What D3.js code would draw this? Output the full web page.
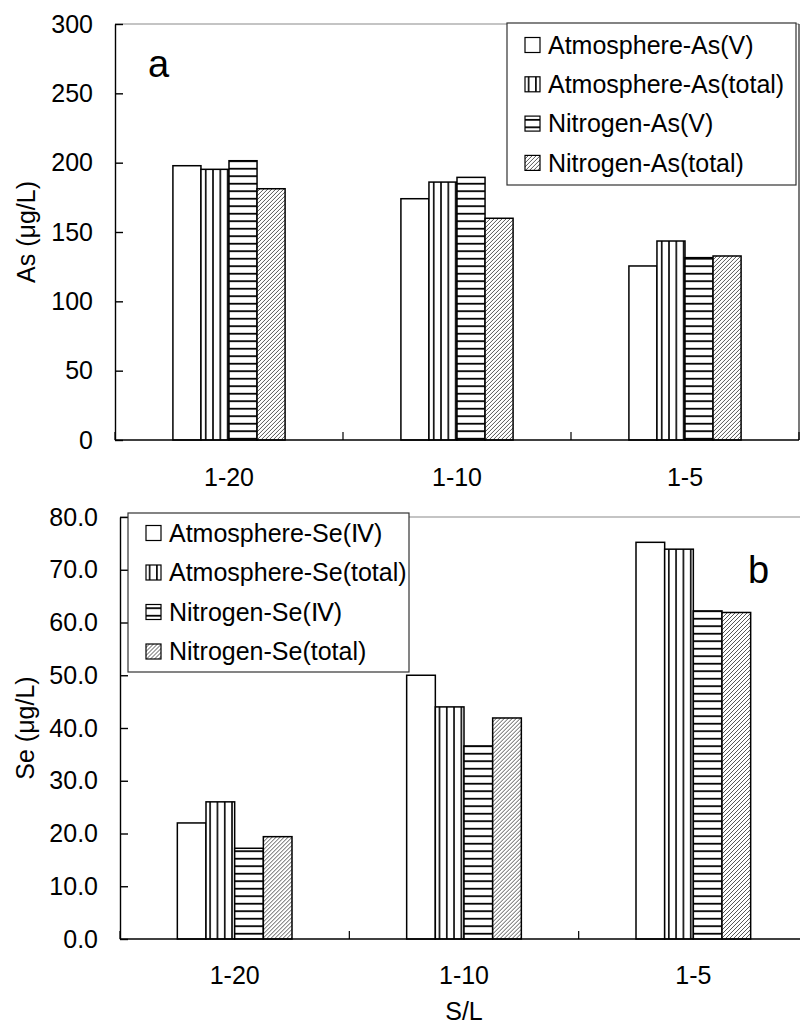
<!DOCTYPE html>
<html>
<head>
<meta charset="utf-8">
<script src="https://cdn.jsdelivr.net/npm/d3@7"></script>
<style>
  body { margin: 0; background: #fff; }
  text { font-family: "Liberation Sans", Arial, sans-serif; fill: #000; }
</style>
</head>
<body>
<div id="chart"></div>
<script>
// categories (solid / liquid ratio)
var categories = ["1-20", "1-10", "1-5"];

// panel a: arsenic
var asSeriesNames = ["Atmosphere-As(V)", "Atmosphere-As(total)", "Nitrogen-As(V)", "Nitrogen-As(total)"];
var asAtmosphereV = [197.8, 174.0, 125.5];
var asAtmosphereTotal = [195.2, 186.0, 143.5];
var asNitrogenV = [201.4, 189.4, 131.5];
var asNitrogenTotal = [181.2, 159.9, 132.7];
var asTicks = [0, 50, 100, 150, 200, 250, 300];

// panel b: selenium
var seSeriesNames = ["Atmosphere-Se(Ⅳ)", "Atmosphere-Se(total)", "Nitrogen-Se(Ⅳ)", "Nitrogen-Se(total)"];
var seAtmosphereIV = [22.0, 50.0, 75.2];
var seAtmosphereTotal = [26.0, 44.0, 73.9];
var seNitrogenIV = [17.2, 36.6, 62.2];
var seNitrogenTotal = [19.4, 41.9, 61.9];
var seTicks = [0, 10, 20, 30, 40, 50, 60, 70, 80];

var svgWidth = 800;
var svgHeight = 1027;
var fontSize = 25;

var svg = d3.select("#chart")
  .append("svg")
  .attr("width", svgWidth)
  .attr("height", svgHeight);

// fill patterns, one per series
var defs = svg.append("defs");
var fills = ["#fff", "url(#vert)", "url(#horiz)", "url(#diag)"];

var vert = defs.append("pattern").attr("id", "vert")
  .attr("patternUnits", "userSpaceOnUse").attr("width", 7.3).attr("height", 10);
vert.append("rect").attr("width", 7.3).attr("height", 10).attr("fill", "#fff");
vert.append("line").attr("x1", 3.6).attr("x2", 3.6).attr("y1", 0).attr("y2", 10)
  .attr("stroke", "#000").attr("stroke-width", 1.6);

var horiz = defs.append("pattern").attr("id", "horiz")
  .attr("patternUnits", "userSpaceOnUse").attr("width", 10).attr("height", 7.5);
horiz.append("rect").attr("width", 10).attr("height", 7.5).attr("fill", "#fff");
horiz.append("line").attr("x1", 0).attr("x2", 10).attr("y1", 3.7).attr("y2", 3.7)
  .attr("stroke", "#000").attr("stroke-width", 1.8);

var diag = defs.append("pattern").attr("id", "diag")
  .attr("patternUnits", "userSpaceOnUse").attr("width", 4).attr("height", 4);
diag.append("rect").attr("width", 4).attr("height", 4).attr("fill", "#fff");
diag.append("path").attr("d", "M-1,1 l2,-2 M0,4 l4,-4 M3,5 l2,-2")
  .attr("stroke", "#444").attr("stroke-width", 0.9);

function drawPanel(cfg) {
  var g = svg.append("g");

  var xScale = d3.scaleBand()
    .domain(categories)
    .range([cfg.left, cfg.right])
    .paddingInner(cfg.pad)
    .paddingOuter(cfg.pad / 2);

  var xSub = d3.scaleBand()
    .domain(d3.range(cfg.series.length))
    .range([0, xScale.bandwidth()]);

  var yScale = d3.scaleLinear()
    .domain([cfg.ticks[0], cfg.ticks[cfg.ticks.length - 1]])
    .range([cfg.bottom, cfg.top]);

  // plot frame (top/right)
  g.append("line")
    .attr("x1", cfg.left).attr("x2", cfg.right)
    .attr("y1", cfg.top).attr("y2", cfg.top)
    .attr("stroke", "#8a8a8a").attr("stroke-width", 1.2);
  g.append("line")
    .attr("x1", cfg.right).attr("x2", cfg.right)
    .attr("y1", cfg.top).attr("y2", cfg.bottom)
    .attr("stroke", "#222").attr("stroke-width", 1.2);

  // bars
  var groups = g.selectAll(".cat")
    .data(categories)
    .enter()
    .append("g")
    .attr("transform", d => `translate(${xScale(d)},0)`);

  groups.selectAll("rect")
    .data((d, i) => cfg.values.map((vals, s) => ({ s: s, v: vals[i] })))
    .enter()
    .append("rect")
    .attr("x", d => xSub(d.s))
    .attr("y", d => yScale(d.v))
    .attr("width", xSub.bandwidth())
    .attr("height", d => cfg.bottom - yScale(d.v))
    .attr("fill", d => fills[d.s])
    .attr("stroke", "#000")
    .attr("stroke-width", 1.5);

  // y axis, ticks pointing inward
  var yAxis = d3.axisLeft(yScale)
    .tickValues(cfg.ticks)
    .tickFormat(d3.format(cfg.format))
    .tickSizeInner(-8)
    .tickSizeOuter(0)
    .tickPadding(22);

  var yAxisG = g.append("g")
    .attr("transform", `translate(${cfg.left},0)`)
    .call(yAxis);
  yAxisG.selectAll("text").style("font-size", fontSize + "px")
    .style("font-family", '"Liberation Sans", Arial, sans-serif');
  yAxisG.selectAll("line, path").attr("stroke", "#000").attr("stroke-width", 1.4);

  // x axis, labels only
  var xAxis = d3.axisBottom(xScale)
    .tickSize(0)
    .tickPadding(cfg.xPad);

  var xAxisG = g.append("g")
    .attr("transform", `translate(0,${cfg.bottom})`)
    .call(xAxis);
  xAxisG.select(".domain").remove();
  xAxisG.selectAll("text").style("font-size", fontSize + "px")
    .style("font-family", '"Liberation Sans", Arial, sans-serif');

  // category separator ticks and baseline
  var sepX = d3.range(categories.length + 1).map(i => cfg.left + i * xScale.step());
  g.selectAll(".sep")
    .data(sepX)
    .enter()
    .append("line")
    .attr("x1", d => d).attr("x2", d => d)
    .attr("y1", cfg.bottom).attr("y2", cfg.bottom - 8)
    .attr("stroke", "#000").attr("stroke-width", 1.2);
  g.append("line")
    .attr("x1", cfg.left).attr("x2", cfg.right)
    .attr("y1", cfg.bottom).attr("y2", cfg.bottom)
    .attr("stroke", "#000").attr("stroke-width", 1.6);

  // y label
  g.append("text")
    .attr("transform", `translate(${cfg.yLabelX},${(cfg.top + cfg.bottom) / 2}) rotate(-90)`)
    .attr("text-anchor", "middle")
    .attr("dy", "0.35em")
    .style("font-size", fontSize + "px")
    .text(cfg.yLabel);

  // panel letter
  g.append("text")
    .attr("x", cfg.letterX)
    .attr("y", cfg.letterY)
    .style("font-size", "38px")
    .text(cfg.letter);

  // legend
  var lg = cfg.legend;
  var legendG = g.append("g");
  legendG.append("rect")
    .attr("x", lg.x).attr("y", lg.y)
    .attr("width", lg.w).attr("height", lg.h)
    .attr("fill", "#fff")
    .attr("stroke", "#333")
    .attr("stroke-width", 1.2);

  var items = legendG.selectAll(".item")
    .data(cfg.series)
    .enter()
    .append("g")
    .attr("transform", (d, i) => `translate(${lg.x + 18},${lg.y + lg.row0 + i * lg.step})`);

  items.append("rect")
    .attr("x", 0).attr("y", -7.5)
    .attr("width", 15).attr("height", 15)
    .attr("fill", (d, i) => fills[i])
    .attr("stroke", "#000")
    .attr("stroke-width", 1.2);

  items.append("text")
    .attr("x", 23)
    .attr("dy", "0.35em")
    .style("font-size", fontSize + "px")
    .text(d => d);
}

drawPanel({
  top: 24, bottom: 440, left: 115, right: 799, pad: 0.508,
  ticks: asTicks, format: "d",
  series: asSeriesNames,
  values: [asAtmosphereV, asAtmosphereTotal, asNitrogenV, asNitrogenTotal],
  yLabel: "As (μg/L)", yLabelX: 26,
  letter: "a", letterX: 148, letterY: 77,
  xPad: 28,
  legend: { x: 507, y: 23, w: 289, h: 162, row0: 22, step: 39.3 }
});

drawPanel({
  top: 517, bottom: 939, left: 120, right: 808, pad: 0.5,
  ticks: seTicks, format: ".1f",
  series: seSeriesNames,
  values: [seAtmosphereIV, seAtmosphereTotal, seNitrogenIV, seNitrogenTotal],
  yLabel: "Se (μg/L)", yLabelX: 25,
  letter: "b", letterX: 748, letterY: 583,
  xPad: 27,
  legend: { x: 128, y: 513, w: 281, h: 159, row0: 20, step: 39.5 }
});

// x axis title
svg.append("text")
  .attr("x", 464)
  .attr("y", 1020)
  .attr("text-anchor", "middle")
  .style("font-size", fontSize + "px")
  .text("S/L");
</script>
</body>
</html>
